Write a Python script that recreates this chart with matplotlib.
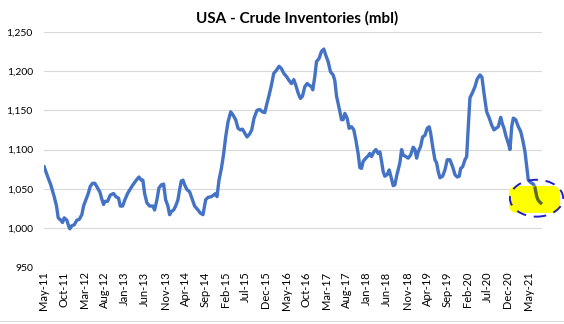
import matplotlib
matplotlib.use("Agg")
import matplotlib.pyplot as plt
from matplotlib.patches import Ellipse, FancyBboxPatch
from matplotlib.lines import Line2D

# Weekly-ish US crude inventories (million barrels), time in decimal years
t = [
    2011.337, 2011.406, 2011.474, 2011.544, 2011.592, 2011.627, 2011.681, 2011.716,
    2011.751, 2011.805, 2011.840, 2011.867, 2011.908, 2011.958, 2012.012, 2012.061,
    2012.115, 2012.150, 2012.198, 2012.247, 2012.289, 2012.336, 2012.384, 2012.440,
    2012.487, 2012.522, 2012.564, 2012.591, 2012.646, 2012.702, 2012.770, 2012.818,
    2012.874, 2012.909, 2012.957, 2013.004, 2013.060, 2013.128, 2013.170, 2013.240,
    2013.294, 2013.343, 2013.376, 2013.412, 2013.459, 2013.515, 2013.583, 2013.618,
    2013.666, 2013.707, 2013.757, 2013.804, 2013.846, 2013.893, 2013.928, 2013.964,
    2014.011, 2014.053, 2014.100, 2014.135, 2014.170, 2014.204, 2014.239, 2014.286,
    2014.342, 2014.398, 2014.445, 2014.514, 2014.563, 2014.617, 2014.673, 2014.720,
    2014.791, 2014.838, 2014.880, 2014.907, 2014.948, 2014.998, 2015.045, 2015.086,
    2015.134, 2015.190, 2015.237, 2015.293, 2015.341, 2015.390, 2015.432, 2015.479,
    2015.527, 2015.583, 2015.624, 2015.672, 2015.734, 2015.790, 2015.845, 2015.893,
    2015.940, 2015.982, 2016.031, 2016.079, 2016.135, 2016.189, 2016.238, 2016.286,
    2016.342, 2016.395, 2016.445, 2016.493, 2016.534, 2016.582, 2016.631, 2016.673,
    2016.720, 2016.768, 2016.809, 2016.859, 2016.885, 2016.927, 2016.962, 2017.016,
    2017.065, 2017.113, 2017.154, 2017.202, 2017.251, 2017.305, 2017.340, 2017.376,
    2017.429, 2017.479, 2017.512, 2017.547, 2017.595, 2017.636, 2017.686, 2017.733,
    2017.775, 2017.822, 2017.857, 2017.892, 2017.926, 2017.981, 2018.029, 2018.064,
    2018.099, 2018.147, 2018.188, 2018.236, 2018.271, 2018.306, 2018.339, 2018.374,
    2018.422, 2018.463, 2018.498, 2018.546, 2018.581, 2018.616, 2018.649, 2018.684,
    2018.720, 2018.753, 2018.809, 2018.856, 2018.906, 2018.959, 2018.995, 2019.030,
    2019.063, 2019.113, 2019.154, 2019.201, 2019.249, 2019.290, 2019.319, 2019.361,
    2019.408, 2019.443, 2019.476, 2019.512, 2019.567, 2019.615, 2019.663, 2019.718,
    2019.774, 2019.822, 2019.869, 2019.911, 2019.940, 2019.981, 2020.029, 2020.064,
    2020.097, 2020.132, 2020.188, 2020.235, 2020.283, 2020.339, 2020.380, 2020.421,
    2020.477, 2020.531, 2020.581, 2020.628, 2020.670, 2020.717, 2020.767, 2020.800,
    2020.835, 2020.876, 2020.924, 2020.959, 2020.994, 2021.027, 2021.077, 2021.131,
    2021.180, 2021.222, 2021.269, 2021.304, 2021.337, 2021.387, 2021.441, 2021.476,
    2021.511, 2021.544, 2021.594,
]
inventories = [
    1078, 1066, 1055, 1040, 1028, 1013, 1010, 1007,
    1013, 1010, 1003, 999, 1003, 1004, 1010, 1011,
    1017, 1028, 1036, 1044, 1053, 1057, 1057, 1051,
    1046, 1038, 1030, 1034, 1034, 1042, 1044, 1040,
    1038, 1028, 1028, 1036, 1044, 1051, 1055, 1061,
    1065, 1061, 1061, 1044, 1032, 1028, 1028, 1023,
    1036, 1051, 1055, 1056, 1036, 1028, 1017, 1021,
    1023, 1028, 1036, 1049, 1060, 1061, 1055, 1049,
    1046, 1036, 1028, 1023, 1019, 1017, 1036, 1039,
    1040, 1042, 1044, 1040, 1061, 1076, 1095, 1116,
    1135, 1148, 1144, 1138, 1127, 1125, 1126, 1121,
    1116, 1120, 1125, 1140, 1150, 1151, 1148, 1147,
    1159, 1169, 1182, 1197, 1201, 1206, 1203, 1197,
    1193, 1188, 1184, 1189, 1182, 1172, 1165, 1168,
    1180, 1184, 1182, 1180, 1176, 1193, 1212, 1216,
    1225, 1228, 1220, 1212, 1199, 1195, 1188, 1168,
    1153, 1138, 1138, 1146, 1140, 1127, 1129, 1125,
    1112, 1095, 1077, 1076, 1085, 1089, 1092, 1095,
    1091, 1097, 1100, 1095, 1097, 1085, 1072, 1066,
    1068, 1074, 1066, 1054, 1055, 1066, 1074, 1083,
    1100, 1093, 1091, 1089, 1093, 1103, 1100, 1089,
    1097, 1104, 1116, 1118, 1127, 1129, 1121, 1104,
    1087, 1083, 1072, 1064, 1066, 1074, 1087, 1087,
    1078, 1068, 1065, 1066, 1076, 1078, 1087, 1091,
    1129, 1166, 1173, 1180, 1190, 1195, 1192, 1172,
    1148, 1140, 1131, 1125, 1127, 1129, 1141, 1133,
    1127, 1117, 1108, 1100, 1129, 1140, 1138, 1129,
    1123, 1112, 1097, 1078, 1061, 1058, 1056, 1051,
    1040, 1035, 1032,
]

tick_labels = [
    "May-11", "Oct-11", "Mar-12", "Aug-12", "Jan-13", "Jun-13", "Nov-13",
    "Apr-14", "Sep-14", "Feb-15", "Jul-15", "Dec-15", "May-16", "Oct-16",
    "Mar-17", "Aug-17", "Jan-18", "Jun-18", "Nov-18", "Apr-19", "Sep-19",
    "Feb-20", "Jul-20", "Dec-20", "May-21",
]
y_ticks = [950, 1000, 1050, 1100, 1150, 1200, 1250]

axis_start = 2011 + 4 / 12          # May 2011
tick_step = 5 / 12                  # every five months
tick_pos = [axis_start + i * tick_step for i in range(len(tick_labels))]

plt.rcParams["font.family"] = ["Lato", "DejaVu Sans"]

fig = plt.figure(figsize=(5.64, 3.24), dpi=100)
ax = fig.add_axes([0.078, 0.175, 0.883, 0.727])

line_color = "#4472C4"
ax.plot(t, inventories, color=line_color, lw=2.4, solid_joinstyle="round", zorder=3)

# highlight around the latest readings
last_t, last_v = t[-1], inventories[-1]
fill = FancyBboxPatch((last_t - 0.656, last_v - 12.7), 1.055, 34.4,
                      boxstyle="round,pad=0,rounding_size=0.17",
                      mutation_aspect=61.5, facecolor="#FFFF00",
                      edgecolor="none", zorder=4, clip_on=False)
outline = Ellipse((last_t - 0.087, last_v + 6), 1.10, 47, facecolor="none",
                  edgecolor="#1F1FC8", lw=1.4, ls=(0, (5, 4)), zorder=5, clip_on=False)
ax.add_patch(fill)
ax.add_patch(outline)
tail = [i for i in range(len(t)) if t[i] >= 2021.47]
ax.plot([t[i] for i in tail], [inventories[i] for i in tail], color="#5B6B2A",
        lw=2.4, solid_joinstyle="round", zorder=6, clip_on=False)

ax.set_xlim(axis_start, 2021.62)
ax.set_ylim(950, 1250)
ax.set_yticks(y_ticks)
ax.set_yticklabels([f"{v:,}" for v in y_ticks], fontsize=7.5, color="#000000")
ax.set_xticks(tick_pos)
ax.set_xticklabels(tick_labels, rotation=90, fontsize=8, color="#000000")
ax.tick_params(axis="both", length=0)
ax.tick_params(axis="y", pad=8)
ax.tick_params(axis="x", pad=3)
ax.grid(axis="y", color="#D9D9D9", lw=0.8)
ax.grid(axis="x", visible=False)
ax.set_axisbelow(True)
for s in ax.spines.values():
    s.set_visible(False)

fig.text(0.527, 0.944, "USA - Crude Inventories (mbl)", ha="center", va="center",
         fontsize=11, fontweight="bold", color="#000000")

fig.add_artist(Line2D([0, 1], [0.009, 0.009], transform=fig.transFigure,
                      color="#D9D9D9", lw=0.8))

fig.savefig("out.png", dpi=100)
